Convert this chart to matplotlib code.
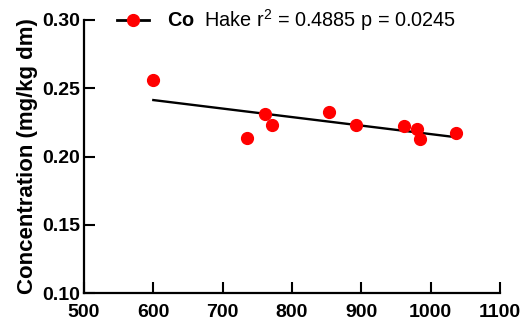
import numpy as np
import matplotlib
matplotlib.use("Agg")
import matplotlib.pyplot as plt

# data
flow = [600, 735, 761, 771, 853, 892, 962, 981, 984, 1036]
conc = [0.2557, 0.2137, 0.2314, 0.2233, 0.2324, 0.2233, 0.2223, 0.2204, 0.2130, 0.2174]
xticks = [500, 600, 700, 800, 900, 1000, 1100]
yticks = [0.10, 0.15, 0.20, 0.25, 0.30]
label = r"$\mathbf{Co}$  Hake r$^{2}$ = 0.4885 p = 0.0245"

plt.rcParams["font.family"] = ["Liberation Sans", "DejaVu Sans"]
plt.rcParams["mathtext.fontset"] = "custom"
plt.rcParams["mathtext.rm"] = "Liberation Sans"
plt.rcParams["mathtext.bf"] = "Liberation Sans:bold"
plt.rcParams["mathtext.it"] = "Liberation Sans:italic"

fig = plt.figure(figsize=(5.26, 3.29), dpi=100)
ax = fig.add_axes([84/526, 1-293/329, 416/526, 273/329])

# linear regression line across the data range
slope, icpt = np.polyfit(flow, conc, 1)
xs = np.array([min(flow), max(flow)])
ax.plot(xs, slope*xs + icpt, color="black", lw=1.7, zorder=2)
ax.plot(flow, conc, "o", color="red", ms=8.5, mec="red", zorder=3)

# legend handle: line with dot
h, = ax.plot([], [], "-o", color="black", mfc="red", mec="red", ms=8.5, lw=2)
leg = ax.legend([h], [label], loc="center left", frameon=False,
                bbox_to_anchor=(117/526, 1-20/329), bbox_transform=fig.transFigure,
                borderpad=0, borderaxespad=0, handlelength=1.6, handletextpad=0.9,
                prop={"size": 14.3})

ax.set_xlim(500, 1100)
ax.set_ylim(0.10, 0.30)
ax.set_xticks(xticks)
ax.set_yticks(yticks)
ax.set_yticklabels(["%.2f" % v for v in yticks])
for lbl in ax.get_xticklabels() + ax.get_yticklabels():
    lbl.set_fontweight("bold")
ax.tick_params(axis="both", direction="in", length=8, width=1.5, labelsize=14)
ax.tick_params(axis="x", pad=8)
ax.tick_params(axis="y", pad=3)
ax.spines["top"].set_visible(False)
ax.spines["right"].set_visible(False)
ax.spines["left"].set_linewidth(1.6)
ax.spines["bottom"].set_linewidth(1.6)
ax.set_ylabel("Concentration (mg/kg dm)", fontsize=16, fontweight="bold", labelpad=3)

fig.savefig("out.png", dpi=100)
